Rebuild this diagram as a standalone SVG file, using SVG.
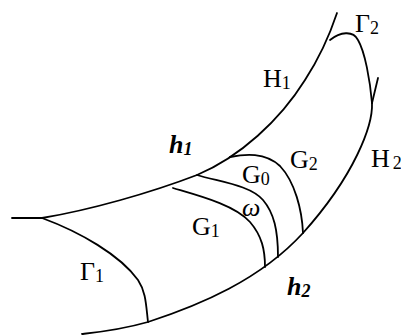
<svg xmlns="http://www.w3.org/2000/svg" width="401" height="335" viewBox="0 0 401 335">
<style>
.c{fill:none;stroke:#000;stroke-width:1.8;stroke-linecap:round;stroke-linejoin:round}
.t{font-family:"Liberation Serif","Times New Roman",serif;font-size:26px;fill:#000}
.s{font-size:18px}
.b{font-weight:bold;font-style:italic}
.i{font-style:italic}
</style>
<rect width="401" height="335" fill="#fff"/>
<g id="curves">
<path id="h1" class="c" d="M12,218 L42,218 C90,210 150,193 197,175 C240,157 280,120 305,80 C318,60 328,40 337,13"/>
<path id="gamma2" class="c" d="M330,40 C340,32 353,30 358,40 C365,52 370,80 372,103"/>
<path id="tick" class="c" d="M378,78 L372,103"/>
<path id="h2" class="c" d="M372,103 C373,125 355,175 303,233 C260,280 200,305 148,322 C120,330 100,332 82,334"/>
<path id="gamma1" class="c" d="M42,218 C80,232 120,255 138,280 C146,292 146,305 148,322"/>
<path id="g2arc" class="c" d="M230,157 C245,154 265,152 280,166 C295,182 302,210 303,233"/>
<path id="g0arc" class="c" d="M197,175 C220,182 250,185 263,200 C274,213 278,230 278,257"/>
<path id="omegaarc" class="c" d="M173,188 C200,196 235,205 250,222 C262,236 265,250 265,267"/>
</g>
<g id="labels" class="t">
<text x="355" y="32">Γ<tspan class="s" dy="2">2</tspan></text>
<text x="263" y="87">H<tspan class="s" dy="2">1</tspan></text>
<text x="169" y="153" class="b">h<tspan class="s" dy="2">1</tspan></text>
<text x="242" y="183">G<tspan class="s" dy="2">0</tspan></text>
<text x="290" y="168">G<tspan class="s" dy="2">2</tspan></text>
<text x="371" y="167">H<tspan class="s" dx="3" dy="2">2</tspan></text>
<text x="242" y="216" class="i">ω</text>
<text x="192" y="235">G<tspan class="s" dy="2">1</tspan></text>
<text x="80" y="280">Γ<tspan class="s" dy="2">1</tspan></text>
<text x="287" y="295" class="b">h<tspan class="s" dy="2">2</tspan></text>
</g>
</svg>
